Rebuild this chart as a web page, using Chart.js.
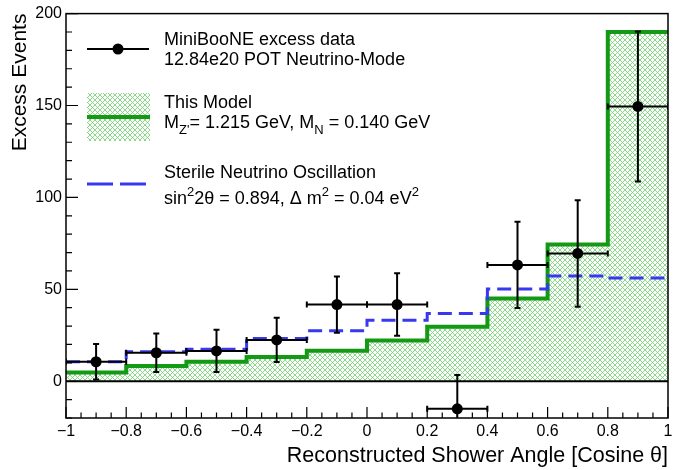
<!DOCTYPE html>
<html><head><meta charset="utf-8">
<script src="https://cdn.jsdelivr.net/npm/chart.js@4"></script>
<style>html,body{margin:0;padding:0;background:#fff}canvas{display:block}</style>
</head><body>
<canvas id="c" width="682" height="470" style="width:682px;height:470px"></canvas>
<script>
// ---- data ----
const binEdges = [-1, -0.8, -0.6, -0.4, -0.2, 0, 0.2, 0.4, 0.6, 0.8, 1];
const binCenters = [-0.9, -0.7, -0.5, -0.3, -0.1, 0.1, 0.3, 0.5, 0.7, 0.9];
const dataValues = [10.6, 15.5, 16.5, 22.5, 41.7, 41.7, -15, 63.3, 69.5, 149.5];
const dataErrors = [9.6, 10.5, 11.5, 12, 15.3, 17, 18.4, 23.4, 29, 40.8];
const modelValues = [4.8, 8.3, 10.6, 13.2, 16.6, 22.2, 29.7, 45, 74.4, 190];
const sterileValues = [10.6, 16, 17.4, 23.2, 27.4, 33.2, 36.8, 50.2, 57.2, 56.2];
const xTickValues = [-1, -0.8, -0.6, -0.4, -0.2, 0, 0.2, 0.4, 0.6, 0.8, 1];
const xTickLabels = ['\u22121', '\u22120.8', '\u22120.6', '\u22120.4', '\u22120.2', '0', '0.2', '0.4', '0.6', '0.8', '1'];
const yTickValues = [0, 50, 100, 150, 200];
const yTickLabels = ['0', '50', '100', '150', '200'];

const FONT = "'Liberation Sans', Arial, Helvetica, sans-serif";
const GREEN = '#139913';
const BLUE = '#3838f0';

const canvas = document.getElementById('c');
const mainCtx = canvas.getContext('2d');

function makeHatch() {
  const s = 5;
  const t = document.createElement('canvas');
  t.width = s; t.height = s;
  const g = t.getContext('2d');
  g.fillStyle = '#ffffff'; g.fillRect(0, 0, s, s);
  g.strokeStyle = '#6fcf6f'; g.lineWidth = 0.8;
  g.beginPath();
  for (const dx of [-s, 0, s]) {
    g.moveTo(dx, 0); g.lineTo(dx + s, s);
    g.moveTo(dx, s); g.lineTo(dx + s, 0);
  }
  g.stroke();
  return mainCtx.createPattern(t, 'repeat');
}
const hatch = makeHatch();

const stepPts = vals => binEdges.map((x, i) => ({ x, y: vals[Math.min(i, vals.length - 1)] }));

const rootStyle = {
  id: 'rootStyle',
  afterDatasetDraw(chart, args) {
    if (args.index !== 2) return;
    const { ctx, chartArea: a, scales: { y } } = chart;
    const y0 = y.getPixelForValue(0);
    ctx.save();
    ctx.strokeStyle = '#000'; ctx.lineWidth = 2;
    ctx.beginPath(); ctx.moveTo(a.left, y0); ctx.lineTo(a.right, y0); ctx.stroke();
    ctx.restore();
  },
  afterDatasetsDraw(chart) {
    const { ctx, chartArea: a, scales: { x, y } } = chart;
    // error bars
    ctx.save();
    ctx.beginPath(); ctx.rect(a.left, a.top, a.right - a.left, a.bottom - a.top); ctx.clip();
    ctx.strokeStyle = '#000'; ctx.lineWidth = 2;
    binCenters.forEach((c, i) => {
      const px = x.getPixelForValue(c), py = y.getPixelForValue(dataValues[i]);
      const xl = x.getPixelForValue(c - 0.1), xr = x.getPixelForValue(c + 0.1);
      const yt = y.getPixelForValue(dataValues[i] + dataErrors[i]);
      const yb = y.getPixelForValue(dataValues[i] - dataErrors[i]);
      ctx.beginPath();
      ctx.moveTo(xl, py); ctx.lineTo(xr, py);
      ctx.moveTo(px, yt); ctx.lineTo(px, yb);
      ctx.moveTo(xl, py - 3); ctx.lineTo(xl, py + 3);
      ctx.moveTo(xr, py - 3); ctx.lineTo(xr, py + 3);
      ctx.moveTo(px - 3, yt); ctx.lineTo(px + 3, yt);
      ctx.moveTo(px - 3, yb); ctx.lineTo(px + 3, yb);
      ctx.stroke();
      ctx.fillStyle = '#000';
      ctx.beginPath(); ctx.arc(px, py, 5.5, 0, Math.PI * 2); ctx.fill();
    });
    ctx.restore();
    // frame and ticks
    ctx.save();
    ctx.strokeStyle = '#000'; ctx.lineWidth = 1.5;
    ctx.strokeRect(a.left, a.top, a.right - a.left, a.bottom - a.top);
    ctx.lineWidth = 1.2;
    ctx.beginPath();
    for (let v = -20; v <= 200; v += 10) {
      const py = y.getPixelForValue(v);
      const len = (v % 50 === 0) ? 12 : 6;
      ctx.moveTo(a.left, py); ctx.lineTo(a.left + len, py);
    }
    for (let k = 0; k <= 40; k++) {
      const v = -1 + k * 0.05;
      const px = x.getPixelForValue(v);
      const len = (k % 4 === 0) ? 11 : 5.5;
      ctx.moveTo(px, a.bottom); ctx.lineTo(px, a.bottom - len);
    }
    ctx.stroke();
    ctx.restore();
  },
  afterDraw(chart) {
    const ctx = chart.ctx;
    ctx.save();
    ctx.fillStyle = '#000';
    ctx.textBaseline = 'alphabetic';
    const rich = (x0, yb, parts) => {
      let xx = x0;
      for (const [t, type] of parts) {
        const size = type === 'n' ? 18 : 13;
        ctx.font = size + 'px ' + FONT;
        const dy = type === 'sub' ? 6 : (type === 'sup' ? -8 : 0);
        ctx.fillText(t, xx, yb + dy);
        xx += ctx.measureText(t).width;
      }
    };
    // entry 1
    ctx.strokeStyle = '#000'; ctx.lineWidth = 2;
    ctx.beginPath(); ctx.moveTo(87, 49); ctx.lineTo(149, 49); ctx.stroke();
    ctx.beginPath(); ctx.arc(118, 49, 5.5, 0, Math.PI * 2); ctx.fill();
    rich(164, 45, [['MiniBooNE excess data', 'n']]);
    rich(164, 65, [['12.84e20 POT Neutrino-Mode', 'n']]);
    // entry 2
    ctx.fillStyle = hatch; ctx.fillRect(87, 93, 63, 48);
    ctx.strokeStyle = GREEN; ctx.lineWidth = 4;
    ctx.beginPath(); ctx.moveTo(87, 117); ctx.lineTo(150, 117); ctx.stroke();
    ctx.fillStyle = '#000';
    rich(164, 108, [['This Model', 'n']]);
    rich(164, 128, [['M', 'n'], ["Z'", 'sub'], ['= 1.215 GeV, M', 'n'], ['N', 'sub'], [' = 0.140 GeV', 'n']]);
    // entry 3
    ctx.strokeStyle = BLUE; ctx.lineWidth = 3;
    ctx.beginPath(); ctx.moveTo(87, 184); ctx.lineTo(113, 184); ctx.moveTo(120, 184); ctx.lineTo(146, 184); ctx.stroke();
    rich(164, 178, [['Sterile Neutrino Oscillation', 'n']]);
    rich(164, 204, [['sin', 'n'], ['2', 'sup'], ['2\u03B8 = 0.894, \u0394 m', 'n'], ['2', 'sup'], [' = 0.04 eV', 'n'], ['2', 'sup']]);
    ctx.restore();
  }
};

new Chart(canvas, {
  type: 'line',
  data: {
    datasets: [
      { label: 'data', type: 'scatter', data: binCenters.map((x, i) => ({ x, y: dataValues[i] })),
        pointRadius: 0, showLine: false, order: 0 },
      { label: 'sterile', data: stepPts(sterileValues), stepped: true, borderColor: BLUE, borderWidth: 3,
        borderDash: [14, 7], fill: false, pointRadius: 0, order: 1 },
      { label: 'model', data: stepPts(modelValues), stepped: true, borderColor: GREEN, borderWidth: 4,
        fill: 'origin', backgroundColor: hatch, pointRadius: 0, order: 2 }
    ]
  },
  options: {
    responsive: false, devicePixelRatio: 1, animation: false,
    layout: { padding: { left: 0, right: 14, top: 10, bottom: 0 } },
    plugins: { legend: { display: false }, tooltip: { enabled: false } },
    scales: {
      x: {
        type: 'linear', min: -1, max: 1,
        afterBuildTicks: s => { s.ticks = xTickValues.map(v => ({ value: v })); },
        afterFit: s => { s.height = 52; },
        ticks: { callback: (v, i) => xTickLabels[i], autoSkip: false, maxRotation: 0,
          font: { family: FONT, size: 16 }, color: '#000', padding: 4 },
        grid: { display: false, drawTicks: false }, border: { display: false },
        title: { display: true, text: 'Reconstructed Shower Angle [Cosine \u03B8]', align: 'end',
          font: { family: FONT, size: 21.5 }, color: '#000', padding: { top: 0, bottom: 1 } }
      },
      y: {
        type: 'linear', min: -20, max: 200,
        afterBuildTicks: s => { s.ticks = yTickValues.map(v => ({ value: v })); },
        afterFit: s => { s.width = 66; },
        ticks: { callback: (v, i) => yTickLabels[i], font: { family: FONT, size: 16 }, color: '#000', padding: 4 },
        grid: { display: false, drawTicks: false }, border: { display: false },
        title: { display: true, text: 'Excess Events', align: 'end',
          font: { family: FONT, size: 21 }, color: '#000', padding: { top: 8, bottom: 0 } }
      }
    }
  },
  plugins: [rootStyle]
});
</script>
</body></html>
